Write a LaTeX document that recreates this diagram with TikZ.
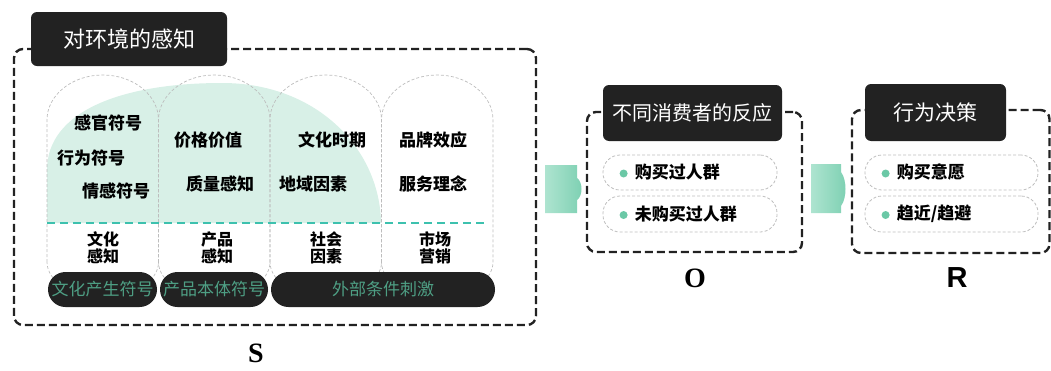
\documentclass[tikz,border=0pt]{standalone}
\usepackage{fontspec}
\usepackage{tikz}
\usetikzlibrary{positioning}
\usetikzlibrary{calc}
\newfontfamily\cjk{Noto Sans CJK SC}
\newfontfamily\serifbold{Liberation Serif}
\newfontfamily\sansbold{Liberation Sans}
\definecolor{darkbox}{HTML}{222222}
\definecolor{mint}{HTML}{D8F0E7}
\definecolor{lineteal}{HTML}{3DC1AE}
\definecolor{bartext}{HTML}{4E9F84}
\definecolor{dotgreen}{HTML}{6BC8A6}
\definecolor{arrowlight}{HTML}{AEE4D0}
\definecolor{arrowdark}{HTML}{7DD0B2}
\definecolor{pillgray}{HTML}{BDBDBD}
\tikzset{frame/.style={draw=darkbox,
                       line width=2.4pt,
                       dash pattern=on 8pt off 4pt,
                       rounded corners=9pt}}
\tikzset{title box/.style={fill=darkbox,
                           rounded corners=6pt,
                           text=white,
                           inner sep=0pt}}
\tikzset{item pill/.style={draw=pillgray,
                           line width=0.8pt,
                           dash pattern=on 3pt off 2pt,
                           rounded corners=17pt,
                           minimum width=174pt}}
\tikzset{label text/.style={font=\cjk\bfseries\fontsize{17}{20}\selectfont,
                            inner sep=0pt}}

\begin{document}
\begin{tikzpicture}
      [
      x=1pt,y=1pt,
      capsule/.style={draw=pillgray,line width=0.7pt,dash pattern=on 3pt off 2pt},
      bar/.style={fill=darkbox,rounded corners=17.5pt,minimum height=35pt,
      inner sep=0pt,text=bartext,font=\cjk\fontsize{17}{20}\selectfont},
      dot/.style={circle,fill=dotgreen,inner sep=0pt,minimum size=8pt},
      block arrow/.style={left color=arrowlight,right color=arrowdark},
      ]
      \useasboundingbox (0,0) rectangle (1051,-370);

      % frames
      \node [frame,minimum width=522pt,minimum height=276pt] (S) at (275,-187) {};
      \node [frame,minimum width=215pt,minimum height=140pt] (O) at (694.5,-182) {};
      \node [frame,minimum width=197.5pt,minimum height=143pt] (R) at (950.75,-181.5) {};

      \node [title box,minimum width=196pt,minimum height=54pt,
      font=\cjk\fontsize{22}{26}\selectfont] (Stitle) at (129,-39) {对环境的感知};
      \node [title box,minimum width=179pt,minimum height=56pt,
      font=\cjk\fontsize{20}{24}\selectfont] (Otitle) at (692.5,-113) {不同消费者的反应};
      \node [title box,minimum width=141pt,minimum height=57pt,
      font=\cjk\fontsize{21}{25}\selectfont] (Rtitle) at (935.5,-112.5) {行为决策};

      % green field
      \fill [mint] (47,-223) -- (47,-170) .. controls (47,-112) and (120,-83) .. (222,-83)
      .. controls (318,-83) and (380,-150) .. (381,-223) -- cycle;

      % capsules
      \foreach \i [evaluate=\i as \xa using 47+(\i-1)*111.5,
                   evaluate=\i as \xb using 47+\i*111.5] in {1,...,4}
      {
      \draw [capsule] (\xa,-262) -- (\xa,-120)
      arc [start angle=180,end angle=0,x radius=55.75,y radius=45]
      -- (\xb,-262) arc [start angle=0,end angle=-180,x radius=55.75,y radius=35];
      }

      \draw [lineteal,line width=2pt,dash pattern=on 8pt off 5pt] (47,-223) -- (486,-223);

      % labels in the capsules
      \foreach \n/\x/\y/\t in
      {
      a/108/123/感官符号,
      b/91/158/行为符号,
      c/116/191/情感符号,
      d/208/140/价格价值,
      e/220/184/质量感知,
      f/332/140/文化时期,
      g/313/184/地域因素,
      h/433/140/品牌效应,
      i/433/184/服务理念
      }
      {
      \node [label text] (L\n) at (\x,-\y) {\t};
      }

      \foreach \n/\x/\t in
      {
      1/103/文化\\感知,
      2/217/产品\\感知,
      3/326/社会\\因素,
      4/435/市场\\营销
      }
      {
      \node [label text,align=center,font=\cjk\bfseries\fontsize{16}{17}\selectfont]
      (K\n) at (\x,-248) {\t};
      }

      % bars
      \foreach \n/\x/\w/\t in
      {
      1/102.5/109/文化产生符号,
      2/214/108/产品本体符号,
      3/383/224/外部条件刺激
      }
      {
      \node [bar,minimum width=\w] (B\n) at (\x,-289.5) {\t};
      }

      % items
      \node [item pill,minimum height=35pt] (O1) at (690,-172.5) {};
      \node [item pill,minimum height=36pt] (O2) at (690,-214) {};
      \node [item pill,minimum height=35pt,minimum width=173pt] (R1) at (951.5,-172.5) {};
      \node [item pill,minimum height=36pt,minimum width=173pt] (R2) at (951.5,-214) {};

      \foreach \p/\t in {O1/购买过人群,O2/未购买过人群,R1/购买意愿,R2/{趋近/趋避}}
      {
      \node [dot] (D\p) at ($(\p.west)+(21,-1)$) {};
      \node [label text,anchor=west] (T\p) at ($(\p.west)+(32,0)$) {\t};
      }

      % block arrows
      \path [block arrow] (545,-165) -- (577,-165) -- (577,-178)
      .. controls (583,-182) and (583,-196) .. (577,-200) -- (577,-213) -- (545,-213) -- cycle;
      \path [block arrow] (811,-164) -- (841,-164) -- (841,-172)
      .. controls (847,-180) and (847,-198) .. (841,-206) -- (841,-213) -- (811,-213) -- cycle;

      % letters
      \node [font=\serifbold\bfseries\fontsize{28}{32}\selectfont] (Sname) at (256,-353) {S};
      \node [font=\serifbold\bfseries\fontsize{28}{32}\selectfont] (Oname) at (695,-278) {O};
      \node [font=\sansbold\bfseries\fontsize{29}{33}\selectfont] (Rname) at (957,-278) {R};

    \end{tikzpicture}
\end{document}
